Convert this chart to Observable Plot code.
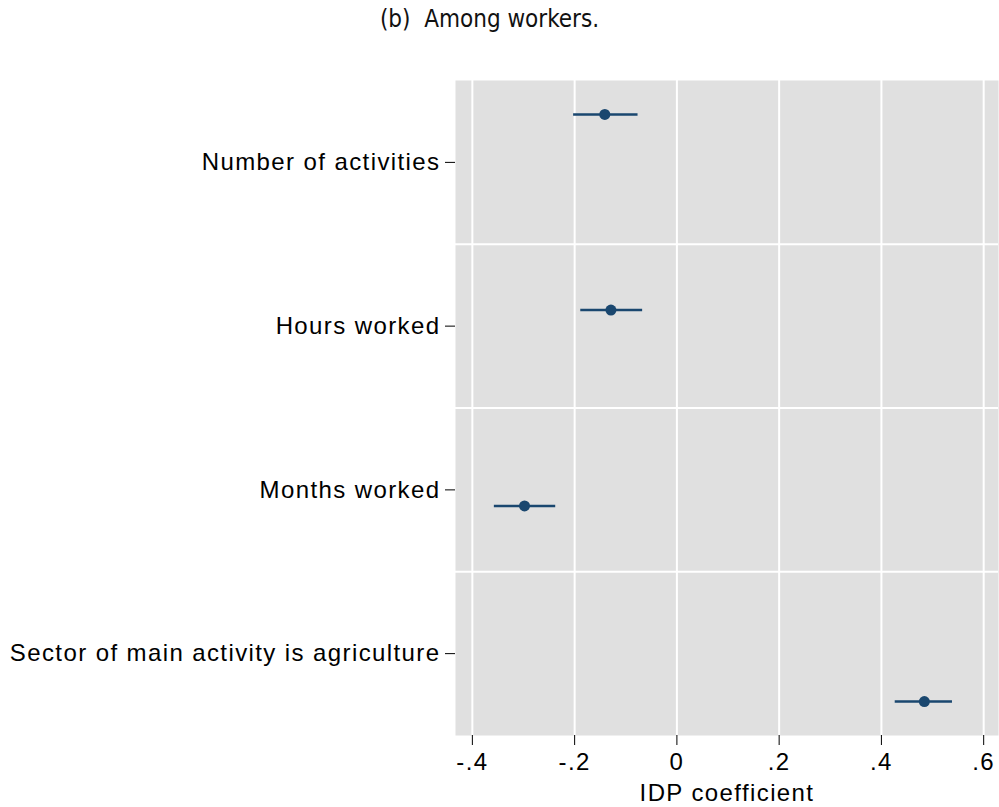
<!DOCTYPE html>
<html>
<head>
<meta charset="utf-8">
<script src="https://cdn.jsdelivr.net/npm/d3@7"></script>
<script src="https://cdn.jsdelivr.net/npm/@observablehq/plot@0.6"></script>
<style>
  html, body { margin: 0; padding: 0; background: #fff; }
  #wrap { position: relative; width: 999px; height: 807px; }
  #title { position: absolute; left: 0; width: 979px; top: 5px; text-align: center;
    font-family: "DejaVu Sans Condensed", "DejaVu Sans", sans-serif; font-stretch: condensed; font-size: 24px; color: #111; z-index: 2; }
  svg { font-family: "Liberation Sans", Arial, sans-serif; }
  svg .lbl text { letter-spacing: 1.4px; }
</style>
</head>
<body>
<div id="wrap"><div id="title">(b)&nbsp; Among workers.</div></div>
<script>
const categories = ["Number of activities", "Hours worked", "Months worked", "Sector of main activity is agriculture"];
const estimates = [-0.141, -0.129, -0.298, 0.484];
const ciLow = [-0.202, -0.188, -0.357, 0.427];
const ciHigh = [-0.076, -0.067, -0.237, 0.539];
const xTicks = [-0.4, -0.2, 0, 0.2, 0.4, 0.6];
const xTickLabels = ["-.4", "-.2", "0", ".2", ".4", ".6"];

// layout: points drawn within their row band, spread from top to bottom
const offsets = [-0.293, -0.098, 0.098, 0.293];
const rows = categories.map((c, i) => ({
  cat: c, pos: i + 1 + offsets[i], est: estimates[i], lo: ciLow[i], hi: ciHigh[i]
}));
const separators = [1.5, 2.5, 3.5];

const chart = Plot.plot({
  width: 999,
  height: 807,
  marginTop: 80,
  marginBottom: 72,
  marginLeft: 455,
  marginRight: 1,
  style: { fontSize: "24px", fontFamily: "'Liberation Sans', Arial, sans-serif", color: "#000", background: "transparent" },
  x: { domain: [-0.433, 0.629] },
  y: { domain: [0.5, 4.5], reverse: true },
  marks: [
    Plot.frame({ fill: "#e0e0e0", stroke: "none" }),
    Plot.ruleX(xTicks, { stroke: "#fff", strokeWidth: 2 }),
    Plot.ruleY(separators, { stroke: "#fff", strokeWidth: 2 }),
    Plot.axisX(xTicks, { tickSize: 10, tickPadding: 7, tickFormat: (d, i) => xTickLabels[i], fontSize: 24, label: null, stroke: "#000", className: "lbl" }),
    Plot.text(["IDP coefficient"], { frameAnchor: "bottom", dy: 65, fontSize: 24, fill: "#000", className: "lbl" }),
    Plot.axisY([1, 2, 3, 4], { tickSize: 10, tickPadding: 5, tickFormat: d => categories[d - 1], fontSize: 24, label: null, stroke: "#000", className: "lbl" }),
    Plot.ruleY(rows, { y: "pos", x1: "lo", x2: "hi", stroke: "#1a476f", strokeWidth: 2.5 }),
    Plot.dot(rows, { y: "pos", x: "est", r: 5.5, fill: "#1a476f", stroke: "none" })
  ]
});
document.getElementById("wrap").prepend(chart);
chart.style.position = "absolute";
chart.style.left = "0";
chart.style.top = "0";
</script>
</body>
</html>
